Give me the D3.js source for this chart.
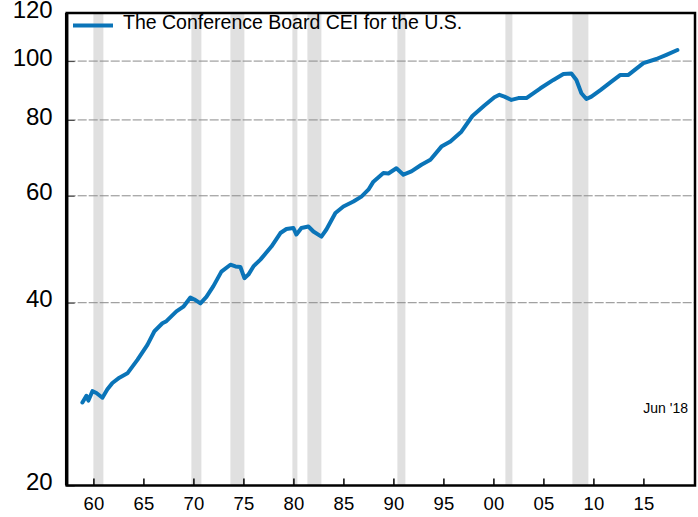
<!DOCTYPE html>
<html>
<head>
<meta charset="utf-8">
<script src="https://cdn.jsdelivr.net/npm/d3@7"></script>
<style>
  body { margin: 0; background: #fff; }
  text { font-family: "Liberation Sans", Arial, sans-serif; }
</style>
</head>
<body>
<div id="chart"></div>
<script>
// Conference Board Coincident Economic Index
let years = [1958.9, 1959.3, 1959.5, 1959.9, 1960.3, 1960.9, 1961.4, 1961.9, 1962.6, 1963.4,
    1964.4, 1965.4, 1966.1, 1966.9, 1967.3, 1968.3, 1969.0, 1969.7, 1970.1, 1970.7,
    1971.3, 1972.0, 1972.8, 1973.7, 1974.2, 1974.7, 1975.1, 1975.5, 1976.0, 1976.7,
    1977.8, 1978.7, 1979.3, 1980.0, 1980.3, 1980.8, 1981.5, 1982.0, 1982.8, 1983.3,
    1984.2, 1985.0, 1986.0, 1986.8, 1987.5, 1988.0, 1989.0, 1989.5, 1990.3, 1991.0,
    1991.8, 1992.8, 1993.7, 1994.8, 1995.7, 1996.8, 1997.9, 1999.1, 2000.1, 2000.6,
    2001.1, 2001.8, 2002.5, 2003.3, 2004.7, 2006.0, 2007.0, 2007.8, 2008.3, 2008.8,
    2009.3, 2009.8, 2010.7, 2011.8, 2012.7, 2013.5, 2015.0, 2016.3, 2017.3, 2018.4];
let cei = [27.4, 28.1, 27.6, 28.6, 28.4, 27.9, 28.8, 29.5, 30.1, 30.6,
    32.2, 34.1, 35.9, 37.0, 37.3, 38.7, 39.4, 40.8, 40.5, 39.9,
    40.9, 42.6, 45.0, 46.2, 45.9, 45.8, 43.9, 44.5, 45.9, 47.1,
    49.5, 52.1, 52.9, 53.1, 51.8, 53.1, 53.4, 52.4, 51.4, 52.8,
    56.2, 57.6, 58.7, 59.8, 61.4, 63.3, 65.4, 65.3, 66.6, 65.0,
    65.8, 67.5, 68.8, 72.3, 73.7, 76.5, 81.2, 84.5, 87.2, 88.0,
    87.4, 86.3, 86.9, 86.9, 90.2, 93.1, 95.2, 95.4, 93.1, 88.5,
    86.6, 87.4, 89.6, 92.5, 94.9, 94.9, 99.2, 100.8, 102.4, 104.3];

// recessions (shaded)
let recStart = [1960.0, 1969.8, 1973.7, 1979.9, 1981.4, 1990.4, 2001.2, 2007.9];
let recEnd   = [1961.0, 1970.8, 1975.1, 1980.4, 1982.8, 1991.2, 2001.9, 2009.5];

let xTicks = [1960, 1965, 1970, 1975, 1980, 1985, 1990, 1995, 2000, 2005, 2010, 2015];
let yTicks = [20, 40, 60, 80, 100, 120];
let yGrid = [40, 60, 80, 100];

let data = years.map((y, i) => ({ x: y, y: cei[i] }));

let width = 698;
let height = 517;
let margin = ({ top: 13, right: 3, bottom: 31.5, left: 66.7 });

let x = d3.scaleLinear()
    .domain([1957.33, 2020.16])
    .range([margin.left, width - margin.right]);

let y = d3.scaleLog()
    .domain([20, 120])
    .range([height - margin.bottom, margin.top]);

let svg = d3.select("#chart")
    .append("svg")
    .attr("width", width)
    .attr("height", height);

// recession bars
svg.append("g")
    .attr("fill", "#e0e0e0")
    .selectAll("rect")
    .data(recStart)
    .join("rect")
    .attr("x", (d, i) => x(d))
    .attr("width", (d, i) => x(recEnd[i]) - x(d))
    .attr("y", margin.top)
    .attr("height", height - margin.bottom - margin.top);

// grid lines
svg.append("g")
    .selectAll("line")
    .data(yGrid)
    .join("line")
    .attr("x1", margin.left)
    .attr("x2", width - margin.right)
    .attr("y1", d => y(d))
    .attr("y2", d => y(d))
    .attr("stroke", "#8a8a8a")
    .attr("stroke-width", 1)
    .attr("stroke-dasharray", "9,2");

// y axis labels + small inside ticks
let yAxis = g => g
    .attr("transform", `translate(${margin.left},0)`)
    .call(d3.axisRight(y).tickValues(yTicks).tickFormat(d3.format("d")).tickSize(8).tickPadding(0))
    .call(g => g.select(".domain").remove())
    .call(g => g.selectAll(".tick line").attr("stroke", "#444"))
    .call(g => g.selectAll(".tick text")
        .attr("x", -14)
        .attr("dy", "0.17em")
        .attr("text-anchor", "end")
        .attr("font-size", 24)
        .attr("font-family", "Liberation Sans, Arial, sans-serif")
        .attr("fill", "#000"));

svg.append("g").call(yAxis);

// x axis: ticks point up into the plot
let xAxis = g => g
    .attr("transform", `translate(0,${height - margin.bottom})`)
    .call(d3.axisBottom(x).tickValues(xTicks).tickSize(-7).tickPadding(0)
        .tickFormat(d => String(d % 100).padStart(2, "0")))
    .call(g => g.select(".domain").remove())
    .call(g => g.selectAll(".tick line").attr("stroke", "#000").attr("stroke-width", 1.5))
    .call(g => g.selectAll(".tick text")
        .attr("y", 24)
        .attr("dy", 0)
        .attr("font-size", 18.5)
        .attr("font-family", "Liberation Sans, Arial, sans-serif")
        .attr("fill", "#000"));

svg.append("g").call(xAxis);

// CEI line
let line = d3.line()
    .x(d => x(d.x))
    .y(d => y(d.y));

svg.append("path")
    .datum(data)
    .attr("fill", "none")
    .attr("stroke", "#0a74b8")
    .attr("stroke-width", 4)
    .attr("stroke-linejoin", "round")
    .attr("stroke-linecap", "round")
    .attr("d", line);

// frame
svg.append("rect")
    .attr("x", margin.left)
    .attr("y", margin.top)
    .attr("width", width - margin.right - margin.left)
    .attr("height", height - margin.bottom - margin.top)
    .attr("fill", "none")
    .attr("stroke", "#000")
    .attr("stroke-width", 2.5);

svg.append("line")
    .attr("x1", margin.left).attr("x2", margin.left)
    .attr("y1", margin.top).attr("y2", height - margin.bottom)
    .attr("stroke", "#000")
    .attr("stroke-width", 3.5);

// legend
let legend = svg.append("g");
legend.append("line")
    .attr("x1", 73).attr("x2", 113)
    .attr("y1", 25.5).attr("y2", 25.5)
    .attr("stroke", "#0a74b8")
    .attr("stroke-width", 4);
legend.append("text")
    .attr("x", 123)
    .attr("y", 28.5)
    .attr("font-size", 19.5)
    .attr("fill", "#000")
    .text("The Conference Board CEI for the U.S.");

// date note
svg.append("text")
    .attr("x", 688)
    .attr("y", 413)
    .attr("text-anchor", "end")
    .attr("font-size", 14)
    .attr("fill", "#000")
    .text("Jun '18");
</script>
</body>
</html>
